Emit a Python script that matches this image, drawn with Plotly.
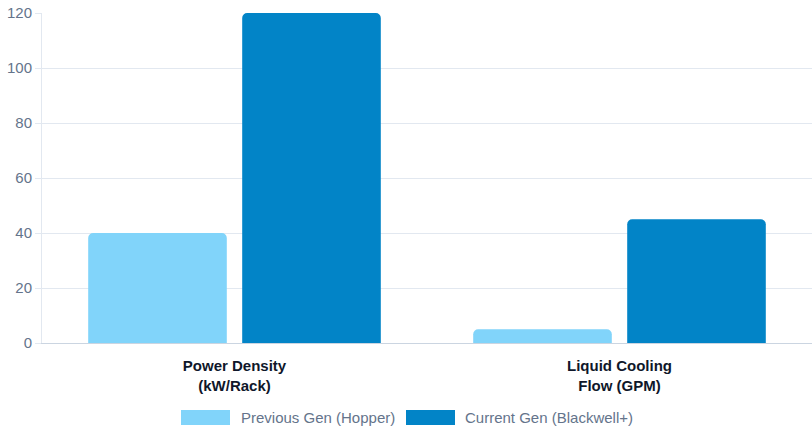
import plotly.graph_objects as go

# data
categories = ["<b>Power Density</b><br><b>(kW/Rack)</b>", "<b>Liquid Cooling</b><br><b>Flow (GPM)</b>"]
previous_gen = [40, 5]
current_gen = [120, 45]
series_names = ["Previous Gen (Hopper)", "Current Gen (Blackwell+)"]
series_colors = ["#81d4fa", "#0284c7"]

W, H = 812, 437
ML, MR, MT, MB = 42, 0, 13, 94
pw, ph = W - ML - MR, H - MT - MB


def px_x(x):
    return (x - ML) / pw


def px_y(y):
    return (H - MB - y) / ph


fig = go.Figure()
for name, vals, col in zip(series_names, [previous_gen, current_gen], series_colors):
    fig.add_trace(go.Bar(x=categories, y=vals, name=name, marker_color=col,
                         marker_line_width=0, showlegend=False))

# legend drawn by hand (wide swatches like the original)
legend_items = [(181, 239), (406, 463)]
for (sx, tx), name, col in zip(legend_items, series_names, series_colors):
    fig.add_shape(type="rect", xref="paper", yref="paper",
                  x0=px_x(sx), x1=px_x(sx + 49), y0=px_y(410), y1=px_y(425),
                  fillcolor=col, line_width=0)
    fig.add_annotation(xref="paper", yref="paper", x=px_x(tx), y=px_y(417.5),
                       text=name, showarrow=False, xanchor="left", yanchor="middle",
                       font=dict(size=15, color="#64748b"))

fig.update_layout(
    width=W, height=H,
    margin=dict(l=ML, r=MR, t=MT, b=MB),
    barmode="group", bargap=0.2, bargroupgap=0.1, barcornerradius=5,
    plot_bgcolor="white", paper_bgcolor="white",
    font=dict(family="Liberation Sans, Arial, sans-serif"),
)
fig.update_xaxes(showgrid=False, showline=True, linecolor="#cbd5e1", linewidth=1,
                 tickfont=dict(size=15, color="#0f172a"), ticks="", ticklabelstandoff=9)
fig.update_yaxes(range=[0, 120], dtick=20, gridcolor="#e2e8f0", gridwidth=1,
                 showline=True, linecolor="#e2e8f0", zeroline=False,
                 ticks="outside", ticklen=6, tickcolor="#e2e8f0",
                 ticklabeloverflow="allow",
                 tickfont=dict(size=15, color="#64748b"))

# drop the default page margin so the figure fills the window
fig.write_html("out.html", config={"displayModeBar": False},
               post_script="document.body.style.margin='0';document.body.style.overflow='hidden';")
